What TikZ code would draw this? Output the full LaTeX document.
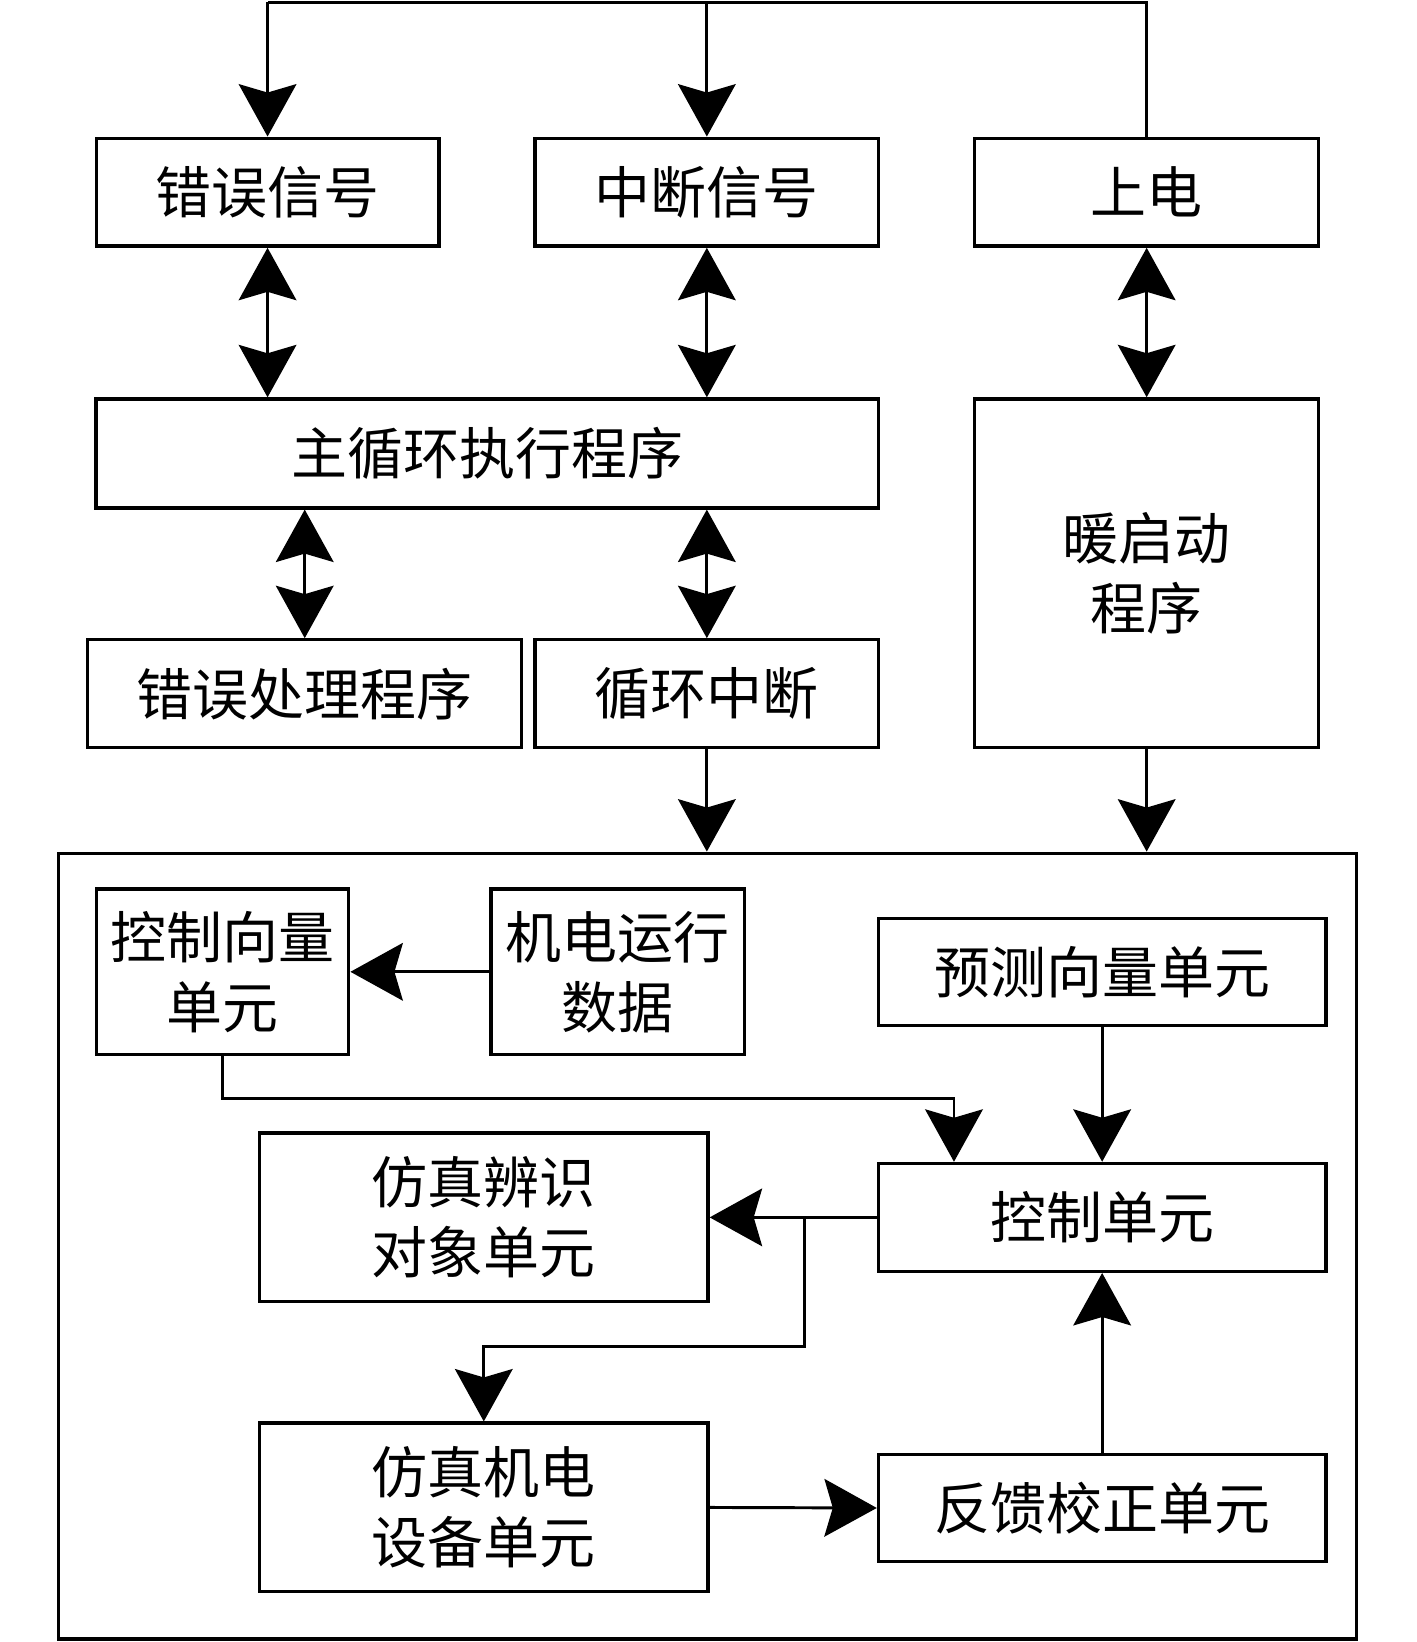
\documentclass[tikz,border=0pt]{standalone}
\usepackage{fontspec}
\setmainfont{Noto Sans CJK SC}
\usetikzlibrary{arrows.meta}
\begin{document}
\begin{tikzpicture}[x=0.01cm,y=-0.01cm,
  box/.style={draw,line width=0.9pt,inner sep=0pt,align=center,
    font=\fontsize{15.2}{19}\selectfont},
  arr/.style={line width=0.8pt,-{Stealth[length=0.5cm,width=0.55cm,inset=0.08cm]}},
  darr/.style={line width=0.8pt,{Stealth[length=0.5cm,width=0.55cm,inset=0.08cm]}-{Stealth[length=0.5cm,width=0.55cm,inset=0.08cm]}}]
\useasboundingbox (0,0) rectangle (1353,1568);

% upper program blocks
\node[box,minimum width=3.27cm,minimum height=1.03cm] (err) at (255.5,183.5) {错误信号};
\node[box,minimum width=3.28cm,minimum height=1.03cm] (intr) at (675,183.5) {中断信号};
\node[box,minimum width=3.28cm,minimum height=1.03cm] (power) at (1095,183.5) {上电};
\node[box,minimum width=7.47cm,minimum height=1.04cm] (main) at (465.5,433) {主循环执行程序};
\node[box,minimum width=3.28cm,minimum height=3.33cm] (warm) at (1095,547.5) {暖启动\\程序};
\node[box,minimum width=4.14cm,minimum height=1.03cm] (errh) at (291,662.5) {错误处理程序};
\node[box,minimum width=3.28cm,minimum height=1.03cm] (loopi) at (675,662.5) {循环中断};

% simulation part
\node[box,minimum width=12.39cm,minimum height=7.5cm] (outer) at (675.5,1190) {};
\node[box,minimum width=2.41cm,minimum height=1.58cm] (cvec) at (212.5,928) {控制向量\\单元};
\node[box,minimum width=2.42cm,minimum height=1.58cm] (mdata) at (590,928) {机电运行\\数据};
\node[box,minimum width=4.27cm,minimum height=1.02cm] (pvec) at (1052.5,928) {预测向量单元};
\node[box,minimum width=4.27cm,minimum height=1.03cm] (ctrl) at (1052.5,1162.5) {控制单元};
\node[box,minimum width=4.28cm,minimum height=1.61cm] (simid) at (462,1162.5) {仿真辨识\\对象单元};
\node[box,minimum width=4.28cm,minimum height=1.61cm] (simdev) at (462,1439.5) {仿真机电\\设备单元};
\node[box,minimum width=4.27cm,minimum height=1.02cm] (fb) at (1052.5,1440) {反馈校正单元};

\coordinate (t1) at (255.5,2);
\coordinate (t2) at (675,2);
\coordinate (t3) at (1095,2);
\coordinate (bend) at (911,1049);
\coordinate (split) at (768,1162.5);
\coordinate (drop) at (768,1286);

\draw[line width=0.8pt] (power.north) -- (t3) -- (t1);
\draw[arr] (t1) -- (err.north);
\draw[arr] (t2) -- (intr.north);
\draw[darr] (err.south) -- (err.south |- main.north);
\draw[darr] (intr.south) -- (intr.south |- main.north);
\draw[darr] (power.south) -- (warm.north);
\draw[darr] (main.south -| errh) -- (errh.north);
\draw[darr] (main.south -| loopi) -- (loopi.north);
\draw[arr] (loopi.south) -- (loopi.south |- outer.north);
\draw[arr] (warm.south) -- (warm.south |- outer.north);

\draw[arr] (mdata.west) -- (cvec.east);
\draw[arr] (cvec.south) |- (bend) -- (bend |- ctrl.north);
\draw[arr] (pvec.south) -- (ctrl.north);
\draw[arr] (ctrl.west) -- (simid.east);
\draw[arr] (split) -- (drop) -| (simdev.north);
\draw[arr] (simdev.east) -- (fb.west);
\draw[arr] (fb.north) -- (ctrl.south);

\end{tikzpicture}
\end{document}
